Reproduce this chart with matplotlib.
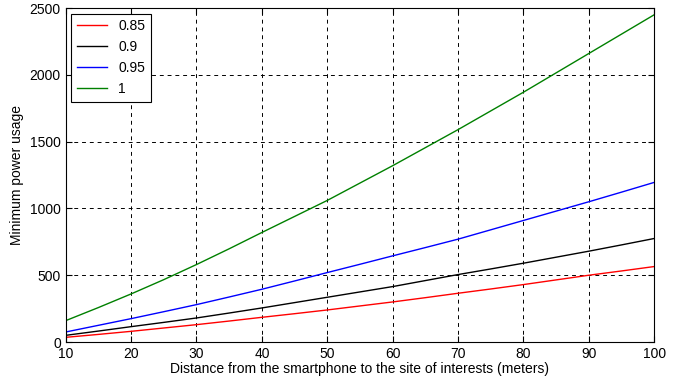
import matplotlib
matplotlib.use("Agg")
import matplotlib.pyplot as plt

plt.rcParams["font.family"] = ["Liberation Sans", "DejaVu Sans"]

distance = [10, 15, 20, 25, 30, 35, 40, 45, 50, 55, 60, 65, 70, 75, 80, 85, 90, 95, 100]
labels = ["0.85", "0.9", "0.95", "1"]
colors = ["#ff0000", "#000000", "#0000ff", "#008000"]
power_085 = [35, 57, 80, 105, 130, 157, 185, 212, 240, 270, 300, 332, 365, 397, 430, 465, 500, 532, 565]
power_09 = [50, 82, 115, 147, 180, 217, 255, 295, 335, 375, 415, 460, 505, 547, 590, 635, 680, 727, 775]
power_095 = [75, 125, 175, 227, 280, 337, 395, 457, 520, 582, 645, 707, 770, 840, 910, 980, 1050, 1122, 1195]
power_1 = [160, 258, 360, 467, 580, 698, 820, 940, 1060, 1190, 1320, 1455, 1590, 1730, 1870, 2015, 2160, 2305, 2450]
series = [power_085, power_09, power_095, power_1]

fig, ax = plt.subplots(figsize=(6.99, 3.83), dpi=100)
fig.subplots_adjust(left=0.094, right=0.936, top=0.979, bottom=0.107)

for vals, lab, col in zip(series, labels, colors):
    ax.plot(distance, vals, color=col, linewidth=1.0, label=lab)

ax.set_xlim(10, 100)
ax.set_ylim(0, 2500)
ax.set_xticks(range(10, 101, 10))
ax.set_yticks(range(0, 2501, 500))
ax.grid(True, color="black", linestyle=(0, (4, 4)), linewidth=0.7)
ax.tick_params(direction="in", labelsize=10, length=4, top=True, right=True)
for sp in ax.spines.values():
    sp.set_linewidth(0.8)
ax.set_xlabel("Distance from the smartphone to the site of interests (meters)", fontsize=10, labelpad=1)
ax.set_ylabel("Minimum power usage", fontsize=10, labelpad=4)

leg = ax.legend(loc="upper left", fontsize=10, fancybox=False, edgecolor="black",
                framealpha=1, handlelength=2.2, borderaxespad=0.4)
leg.get_frame().set_linewidth(0.8)

fig.savefig("out.png", dpi=100)
plt.close(fig)
